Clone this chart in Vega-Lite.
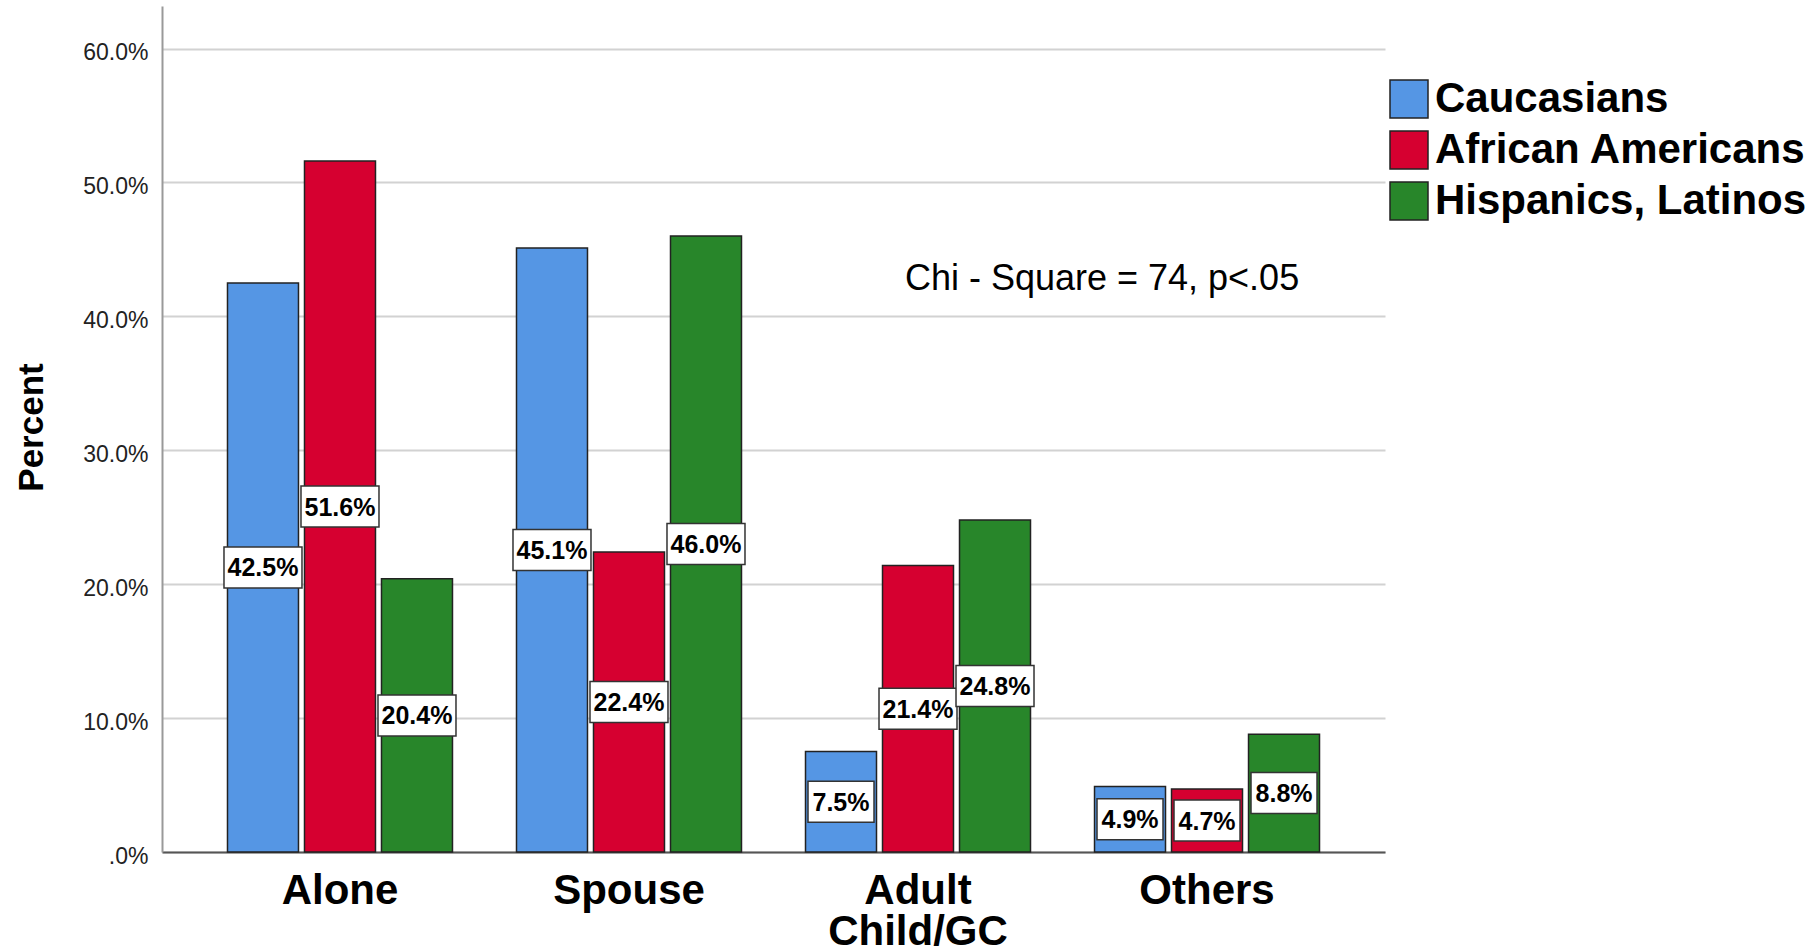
{
  "$schema": "https://vega.github.io/schema/vega-lite/v6.json",
  "autosize": {"type": "none"},
  "padding": {"left": 162, "top": 6, "right": 428, "bottom": 97},
  "width": 1223,
  "height": 846,
  "background": "white",
  "config": {
    "font": "Liberation Sans",
    "view": {"stroke": null}
  },
  "data": {
    "values": [
      {"category": "Alone", "group": "Caucasians", "value": 0.425},
      {"category": "Alone", "group": "African Americans", "value": 0.516},
      {"category": "Alone", "group": "Hispanics, Latinos", "value": 0.204},
      {"category": "Spouse", "group": "Caucasians", "value": 0.451},
      {"category": "Spouse", "group": "African Americans", "value": 0.224},
      {"category": "Spouse", "group": "Hispanics, Latinos", "value": 0.460},
      {"category": "Adult Child/GC", "group": "Caucasians", "value": 0.075},
      {"category": "Adult Child/GC", "group": "African Americans", "value": 0.214},
      {"category": "Adult Child/GC", "group": "Hispanics, Latinos", "value": 0.248},
      {"category": "Others", "group": "Caucasians", "value": 0.049},
      {"category": "Others", "group": "African Americans", "value": 0.047},
      {"category": "Others", "group": "Hispanics, Latinos", "value": 0.088}
    ]
  },
  "encoding": {
    "x": {
      "field": "category", "type": "nominal",
      "scale": {"domain": ["Alone", "Spouse", "Adult Child/GC", "Others"], "paddingInner": 0.2215, "paddingOuter": 0.2266},
      "axis": {
        "title": null,
        "labelAngle": 0,
        "labelFontSize": 42,
        "labelFontWeight": "bold",
        "labelColor": "black",
        "labelPadding": 18,
        "labelLineHeight": 41,
        "labelLimit": 400,
        "labelExpr": "datum.label == 'Adult Child/GC' ? ['Adult', 'Child/GC'] : datum.label",
        "ticks": false,
        "tickSize": 0,
        "domainColor": "#555555",
        "domainWidth": 2,
        "grid": false
      }
    },
    "xOffset": {
      "field": "group", "type": "nominal",
      "scale": {"domain": ["Caucasians", "African Americans", "Hispanics, Latinos"], "paddingInner": 0.078, "paddingOuter": 0}
    }
  },
  "layer": [
    {
      "mark": {"type": "bar", "stroke": "#222222", "strokeWidth": 1.5},
      "encoding": {
        "y": {
          "field": "value", "type": "quantitative",
          "scale": {"domain": [0, 0.6318], "nice": false, "zero": true},
          "axis": {
            "title": "Percent",
            "titleFontSize": 35,
            "titleFontWeight": "bold",
            "titleColor": "black",
            "titleX": -131,
            "titleY": 421,
            "titleBaseline": "middle",
            "titleAngle": -90,
            "values": [0, 0.1, 0.2, 0.3, 0.4, 0.5, 0.6],
            "labelExpr": "datum.value === 0 ? '.0%' : format(datum.value, '.1%')",
            "labelFontSize": 23,
            "labelColor": "#222222",
            "labelPadding": 14,
            "labelOffset": 4,
            "ticks": false,
            "tickSize": 0,
            "domainColor": "#999999",
            "domainWidth": 2,
            "grid": true,
            "gridColor": "#d2d2d2",
            "gridWidth": 2
          }
        },
        "color": {
          "field": "group", "type": "nominal",
          "scale": {
            "domain": ["Caucasians", "African Americans", "Hispanics, Latinos"],
            "range": ["#5596E4", "#D60030", "#28862A"]
          },
          "legend": {
            "title": null,
            "orient": "none",
            "legendX": 1226,
            "legendY": 72,
            "padding": 0,
            "symbolType": "square",
            "symbolSize": 1444,
            "symbolStrokeColor": "#222222",
            "symbolStrokeWidth": 1.5,
            "symbolOpacity": 1,
            "labelFontSize": 42,
            "labelFontWeight": "bold",
            "labelColor": "black",
            "labelLimit": 500,
            "labelOffset": 5,
            "rowPadding": 7
          }
        }
      }
    },
    {
      "transform": [{"filter": "datum.value >= 0.1"}],
      "mark": {
        "type": "point",
        "shape": "M-1.95,-1.025H1.95V1.025H-1.95Z",
        "size": 1600,
        "filled": true,
        "fill": "white",
        "stroke": "#333333",
        "strokeWidth": 1.5,
        "opacity": 1
      },
      "encoding": {
        "y": {
          "field": "value", "type": "quantitative",
          "scale": {"domain": [0, 1.2636], "nice": false, "zero": true},
          "axis": null
        }
      }
    },
    {
      "transform": [{"filter": "datum.value < 0.1"}],
      "mark": {
        "type": "point",
        "shape": "M-1.65,-1.025H1.65V1.025H-1.65Z",
        "size": 1600,
        "filled": true,
        "fill": "white",
        "stroke": "#333333",
        "strokeWidth": 1.5,
        "opacity": 1
      },
      "encoding": {
        "y": {
          "field": "value", "type": "quantitative",
          "scale": {"domain": [0, 1.2636], "nice": false, "zero": true},
          "axis": null
        }
      }
    },
    {
      "mark": {
        "type": "text",
        "fontSize": 25,
        "fontWeight": "bold",
        "color": "black",
        "baseline": "middle",
        "align": "center",
        "dy": 1
      },
      "encoding": {
        "y": {
          "field": "value", "type": "quantitative",
          "scale": {"domain": [0, 1.2636], "nice": false, "zero": true},
          "axis": null
        },
        "text": {"field": "value", "type": "quantitative", "format": ".1%"}
      }
    },
    {
      "data": {"values": [{"note": "Chi - Square = 74, p<.05", "category": "Others", "pos": 0.4197}]},
      "mark": {
        "type": "text",
        "fontSize": 36,
        "color": "black",
        "align": "center",
        "baseline": "alphabetic",
        "dx": -105
      },
      "encoding": {
        "xOffset": null,
        "y": {
          "field": "pos", "type": "quantitative",
          "scale": {"domain": [0, 0.6318], "nice": false, "zero": true},
          "axis": null
        },
        "text": {"field": "note", "type": "nominal"}
      }
    }
  ],
  "resolve": {"scale": {"y": "independent"}}
}
